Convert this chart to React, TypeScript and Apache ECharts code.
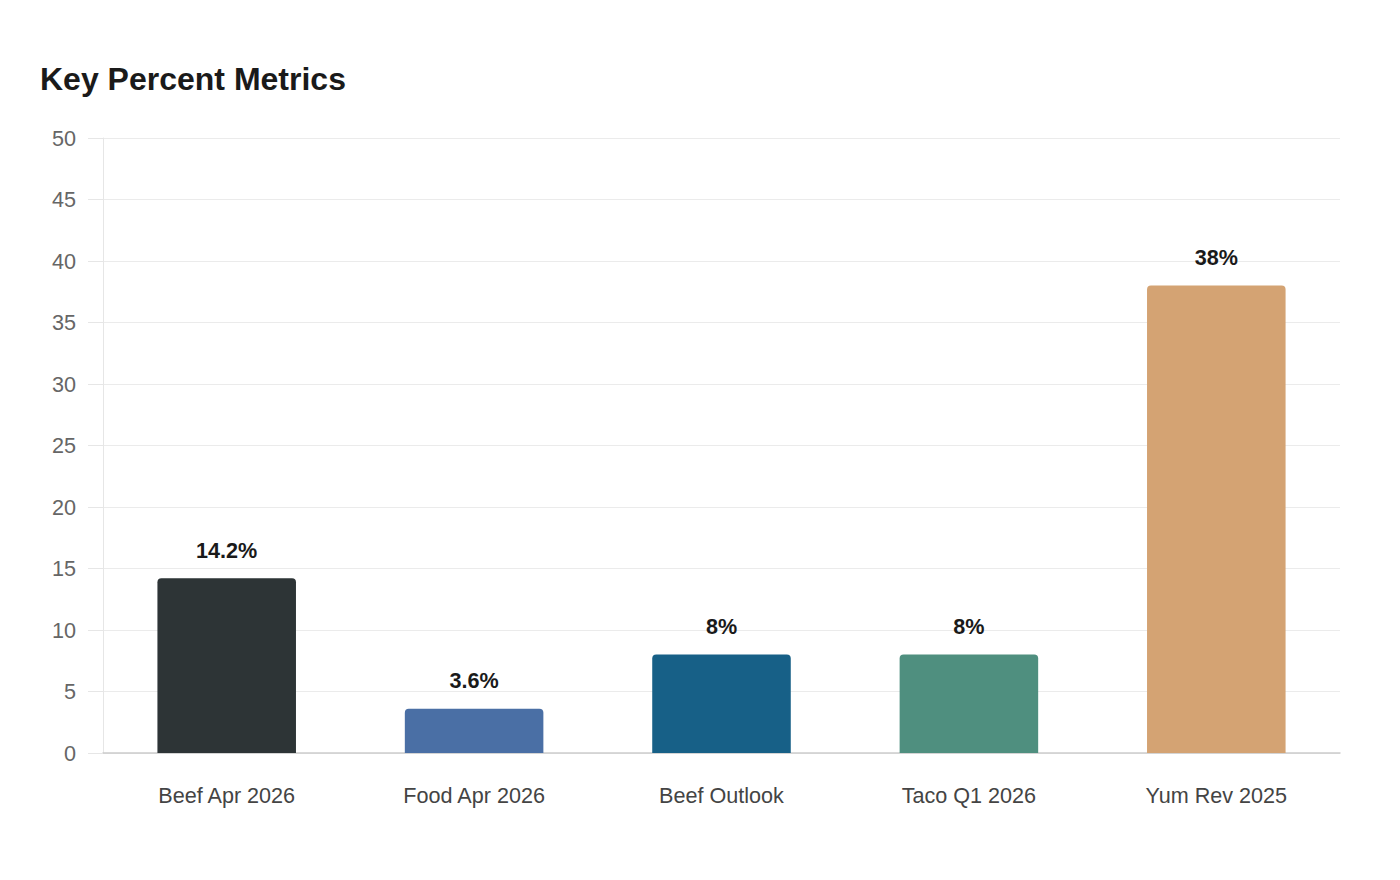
import React, { useEffect, useRef } from "react";
import * as echarts from "echarts";

const categories = ["Beef Apr 2026", "Food Apr 2026", "Beef Outlook", "Taco Q1 2026", "Yum Rev 2025"];
const values = [14.2, 3.6, 8, 8, 38];
const labels = ["14.2%", "3.6%", "8%", "8%", "38%"];
const colors = ["#2d3436", "#4a6fa5", "#176087", "#4f8f7f", "#d4a373"];

export default function App() {
  const ref = useRef<HTMLDivElement>(null);
  useEffect(() => {
    if (!ref.current) return;
    const chart = echarts.init(ref.current, undefined, { renderer: "svg" });
    chart.setOption({
      animation: false,
      backgroundColor: "#ffffff",
      textStyle: { fontFamily: "Liberation Sans, Arial, sans-serif" },
      title: {
        text: "Key Percent Metrics",
        left: 27,
        top: 50,
        textStyle: { fontSize: 32, fontWeight: "bold", color: "#1a1a1a", fontFamily: "Liberation Sans, Arial, sans-serif" },
      },
      grid: { left: 95, right: 52, top: 130, bottom: 119, containLabel: false },
      xAxis: {
        type: "category",
        data: categories,
        axisLine: { show: true, lineStyle: { color: "#cccccc", width: 1.5 } },
        axisTick: { show: false },
        axisLabel: { fontSize: 21.6, color: "#444444", margin: 31 },
      },
      yAxis: {
        type: "value",
        min: 0,
        max: 50,
        interval: 5,
        axisLine: { show: true, lineStyle: { color: "#e6e6e6" } },
        axisTick: { show: true, length: 15, lineStyle: { color: "#e6e6e6" } },
        splitLine: { lineStyle: { color: "#ebebeb" } },
        axisLabel: { fontSize: 21.6, color: "#666666", margin: 27 },
      },
      series: [
        {
          type: "bar",
          barWidth: "56%",
          data: values.map((v, i) => ({
            value: v,
            itemStyle: { color: colors[i], borderRadius: [4, 4, 0, 0] },
            label: { formatter: labels[i] },
          })),
          label: {
            show: true,
            position: "top",
            distance: 17,
            fontSize: 21.6,
            fontWeight: "bold",
            color: "#1a1a1a",
          },
        },
      ],
    });
    return () => chart.dispose();
  }, []);
  return <div ref={ref} style={{ width: 1384, height: 864 }} />;
}
